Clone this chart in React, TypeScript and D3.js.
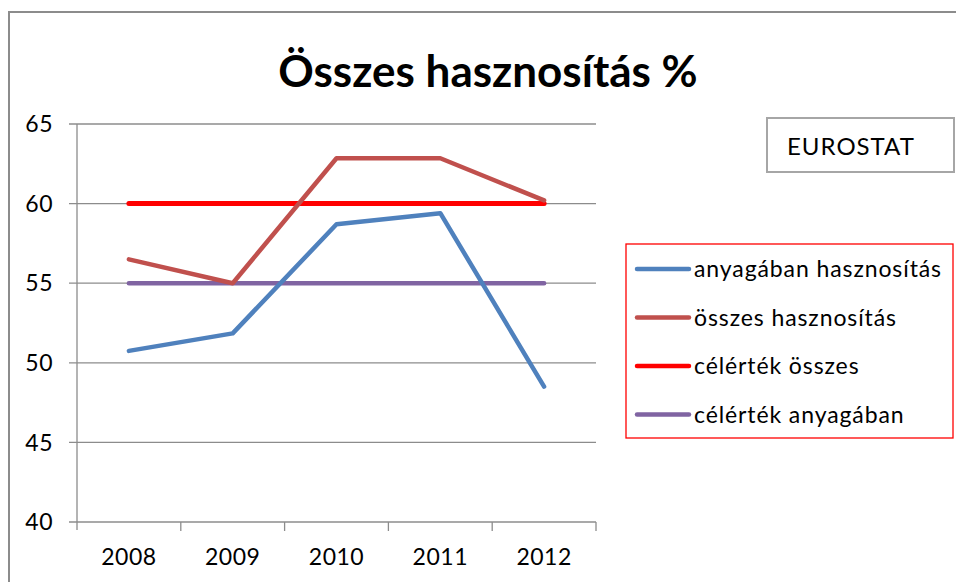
import React from "react";
import * as d3 from "d3";

const years = ["2008", "2009", "2010", "2011", "2012"];
const anyagaban = [50.75, 51.85, 58.7, 59.4, 48.5];
const osszes = [56.5, 55.0, 62.85, 62.85, 60.2];
const celOsszes = [60, 60, 60, 60, 60];
const celAnyagaban = [55, 55, 55, 55, 55];
const yTicks = [40, 45, 50, 55, 60, 65];

const seriesNames = ["anyagában hasznosítás", "összes hasznosítás", "célérték összes", "célérték anyagában"];
const seriesColors = ["#4F81BD", "#C0504D", "#FF0000", "#8064A2"];
const seriesValues = [anyagaban, osszes, celOsszes, celAnyagaban];

const W = 956;
const H = 582;
const font = "Lato, 'Open Sans', sans-serif";

export default function App() {
  const left = 77, right = 596, top = 124, bottom = 522;

  const x = d3.scaleBand().domain(years).range([left, right]);
  const y = d3.scaleLinear().domain([40, 65]).range([bottom, top]);

  const lineGen = d3
    .line<number>()
    .x((_, i) => x(years[i])! + x.bandwidth() / 2)
    .y((v) => y(v));

  // draw order: targets under the data lines like the original
  const drawOrder = [3, 2, 1, 0];

  return (
    <div style={{ position: "fixed", left: 0, top: 0 }}>
      <svg width={W} height={H} style={{ display: "block", background: "#fff" }}>
        {/* outer chart frame */}
        <path d={`M9,${H} V12 H${W}`} fill="none" stroke="#8c8c8c" strokeWidth={2} />

        <text x={488} y={87} textAnchor="middle" fontFamily={font} fontWeight="bold" fontSize={44} fill="#000">
          Összes hasznosítás %
        </text>

        {/* gridlines + y ticks */}
        {yTicks.map((t) => (
          <g key={t}>
            <line x1={left - 8} x2={right} y1={y(t)} y2={y(t)} stroke="#8c8c8c" strokeWidth={1.3} />
            <text x={53} y={y(t)} dy="0.36em" textAnchor="end" fontFamily={font} fontSize={23} letterSpacing={0.5} fill="#000">
              {t}
            </text>
          </g>
        ))}
        <line x1={left} x2={left} y1={top} y2={bottom + 8} stroke="#8c8c8c" strokeWidth={1.3} />

        {/* x ticks */}
        {years.map((yr) => (
          <g key={yr}>
            <line x1={x(yr)! + x.bandwidth()} x2={x(yr)! + x.bandwidth()} y1={bottom} y2={bottom + 9} stroke="#8c8c8c" strokeWidth={1.3} />
            <text x={x(yr)! + x.bandwidth() / 2} y={557} dy="0.36em" textAnchor="middle" fontFamily={font} fontSize={23} letterSpacing={0.5} fill="#000">
              {yr}
            </text>
          </g>
        ))}

        {drawOrder.map((i) => (
          <path
            key={seriesNames[i]}
            d={lineGen(seriesValues[i]) ?? ""}
            fill="none"
            stroke={seriesColors[i]}
            strokeWidth={i === 2 ? 5 : 4.5}
            strokeLinecap="round"
            strokeLinejoin="round"
          />
        ))}

        {/* EUROSTAT box */}
        <rect x={767} y={118} width={187} height={54} fill="#fff" stroke="#a6a6a6" strokeWidth={2} />
        <text x={787} y={146} dy="0.36em" fontFamily={font} fontSize={24} letterSpacing={1} fill="#000">
          EUROSTAT
        </text>

        {/* legend */}
        <rect x={626} y={244} width={327} height={194} fill="#fff" stroke="#FF0000" strokeWidth={1.3} />
        {seriesNames.map((name, i) => {
          const ly = 269 + i * 48.5;
          return (
            <g key={name}>
              <line x1={637} x2={689} y1={ly} y2={ly} stroke={seriesColors[i]} strokeWidth={4.5} strokeLinecap="round" />
              <text x={694} y={ly} dy="0.36em" fontFamily={font} fontSize={23} letterSpacing={0.9} fill="#000">
                {name}
              </text>
            </g>
          );
        })}
      </svg>
    </div>
  );
}
